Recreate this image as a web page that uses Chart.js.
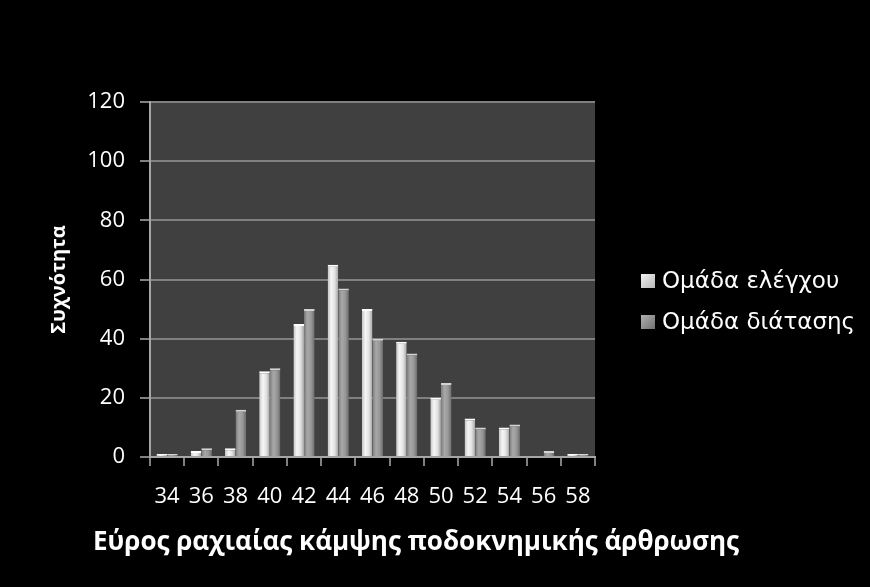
<!DOCTYPE html>
<html><head><meta charset="utf-8">
<script src="https://cdn.jsdelivr.net/npm/chart.js@4.4.0/dist/chart.umd.min.js"></script>
<style>html,body{margin:0;padding:0;background:#000;overflow:hidden}#wrap{width:870px;height:587px}</style>
</head><body><div id="wrap"><canvas id="c" width="870" height="587"></canvas></div>
<script>
const categories = ['34','36','38','40','42','44','46','48','50','52','54','56','58'];
const controlGroup = [1, 2, 3, 29, 45, 65, 50, 39, 20, 13, 10, 0, 1];
const stretchGroup = [1, 3, 16, 30, 50, 57, 40, 35, 25, 10, 11, 2, 1];
const yTickValues = [0, 20, 40, 60, 80, 100, 120];
const seriesNames = ['Ομάδα ελέγχου', 'Ομάδα διάτασης'];
const yTitleText = 'Συχνότητα';
const xTitleText = 'Εύρος ραχιαίας κάμψης ποδοκνημικής άρθρωσης';

const CAT_PCT = 0.62, BAR_PCT = 1;
const controlStops = ['#c4c4c4', '#f6f6f6', '#e2e2e2', '#a4a4a4'];
const stretchStops = ['#7c7c7c', '#a8a8a8', '#989898', '#6a6a6a'];
const legendFill = [['#f2f2f2', '#b8b8b8'], ['#b0b0b0', '#707070']];

function barGradient(stops) {
  return function (ctx) {
    const chart = ctx.chart, xs = chart.scales && chart.scales.x;
    if (!xs || ctx.dataIndex === undefined || ctx.type !== 'data') return stops[1];
    const n = chart.data.labels.length;
    const cat = (xs.right - xs.left) / n * CAT_PCT;
    const bw = cat / chart.data.datasets.length * BAR_PCT;
    const center = xs.getPixelForValue(ctx.dataIndex);
    const x0 = center - cat / 2 + bw * ctx.datasetIndex;
    if (!isFinite(x0) || !isFinite(bw) || bw <= 0) return stops[1];
    const g = chart.ctx.createLinearGradient(x0, 0, x0 + bw, 0);
    stops.forEach((c, i) => g.addColorStop(i / (stops.length - 1), c));
    return g;
  };
}

const bgPlugin = {
  id: 'bg',
  beforeDraw(chart) {
    const {ctx, chartArea: a} = chart;
    ctx.save();
    ctx.fillStyle = '#000';
    ctx.fillRect(0, 0, chart.width, chart.height);
    ctx.fillStyle = '#404040';
    ctx.fillRect(a.left, a.top, a.right - a.left, a.bottom - a.top);
    ctx.restore();
  }
};

// x-axis title (wider than the plot area) and the legend beside the plot area
const sideTexts = {
  id: 'sideTexts',
  afterDraw(chart) {
    const {ctx, chartArea: a} = chart;
    ctx.save();
    ctx.fillStyle = '#ffffff';
    ctx.font = 'bold 26px "Open Sans"';
    ctx.textAlign = 'center';
    ctx.textBaseline = 'middle';
    ctx.fillText(xTitleText, a.left - 54 + 320, a.bottom + 86);

    const mid = (a.top + a.bottom) / 2;
    ctx.font = '23px "DejaVu Sans"';
    ctx.textAlign = 'left';
    chart.data.datasets.forEach((ds, i) => {
      const y = mid + 1.5 + i * 41;
      const bx = a.right + 46, by = y - 7;
      const g = ctx.createLinearGradient(bx, by, bx + 14, by + 14);
      g.addColorStop(0, legendFill[i][0]);
      g.addColorStop(1, legendFill[i][1]);
      ctx.fillStyle = g;
      ctx.fillRect(bx, by, 14, 14);
      ctx.fillStyle = '#ffffff';
      ctx.fillText(ds.label, a.right + 67, y + 1);
    });
    ctx.restore();
  }
};

new Chart(document.getElementById('c'), {
  type: 'bar',
  data: {
    labels: categories,
    datasets: [
      { label: seriesNames[0], data: controlGroup, backgroundColor: barGradient(controlStops),
        borderColor: '#ffffff', borderWidth: {top: 2, left: 0, right: 0, bottom: 0},
        categoryPercentage: CAT_PCT, barPercentage: BAR_PCT },
      { label: seriesNames[1], data: stretchGroup, backgroundColor: barGradient(stretchStops),
        borderColor: '#d4d4d4', borderWidth: {top: 2, left: 0, right: 0, bottom: 0},
        categoryPercentage: CAT_PCT, barPercentage: BAR_PCT }
    ]
  },
  options: {
    responsive: false,
    animation: false,
    devicePixelRatio: 1,
    layout: { padding: { top: 102, bottom: 0, left: 0, right: 275 } },
    plugins: {
      tooltip: { enabled: false },
      legend: { display: false }
    },
    scales: {
      x: {
        position: 'bottom',
        afterFit(s) { s.height = 130; },
        grid: { drawOnChartArea: false, drawTicks: true, tickLength: 9, color: '#808080', lineWidth: 2, offset: true },
        border: { color: '#a6a6a6', width: 2 },
        ticks: { color: '#ffffff', font: { family: 'Open Sans', size: 22 }, padding: 18, maxRotation: 0, autoSkip: false },
        title: { display: false, text: xTitleText }
      },
      y: {
        position: 'left', min: 0, max: 120,
        afterFit(s) { s.width = 150; },
        afterBuildTicks(s) { s.ticks = yTickValues.map(v => ({ value: v })); },
        grid: { color: '#808080', lineWidth: 2, tickLength: 10 },
        border: { color: '#a6a6a6', width: 2 },
        ticks: { color: '#ffffff', font: { family: 'Open Sans', size: 22 }, padding: 15 },
        title: { display: true, text: yTitleText, color: '#ffffff',
          font: { family: 'Open Sans', size: 20, weight: 'bold' }, padding: { top: 47, bottom: 0 } }
      }
    }
  },
  plugins: [bgPlugin, sideTexts]
});
</script>
</body></html>
